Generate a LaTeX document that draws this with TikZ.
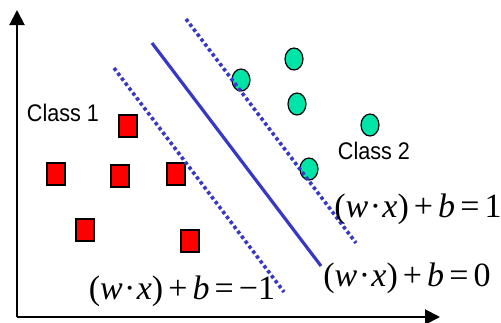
\documentclass[tikz,border=0pt]{standalone}
\usepackage{fontspec}
\usepackage{graphicx}
\newfontfamily\tms{Liberation Serif}
\newfontfamily\arl{Liberation Sans}
\usetikzlibrary{arrows.meta,shapes.geometric}
\definecolor{svmblue}{RGB}{55,55,200}
\definecolor{svmgreen}{RGB}{0,228,168}
\tikzset{
  axisline/.style={line width=2pt,-{Triangle[length=15pt,width=15pt]}},
  redsq/.style={draw=black,fill=red,line width=1.2pt,minimum width=18pt,minimum height=22pt,inner sep=0pt,rectangle},
  greendot/.style={draw=black,fill=svmgreen,line width=1.2pt,minimum width=18pt,minimum height=22pt,inner sep=0pt,ellipse},
  hyper/.style={draw=svmblue,line width=3.2pt},
  margin/.style={draw=svmblue,line width=3.6pt,dash pattern=on 3.4pt off 2.8pt},
  cls/.style={inner sep=0pt,font=\arl\fontsize{24}{24}\selectfont},
  eq/.style={inner sep=0pt,font=\tms\fontsize{34}{34}\selectfont}
}
\newcommand{\eqtext}[1]{(\textit{w}\hspace{0.04em}·\hspace{0.04em}\textit{x})\hspace{0.15em}+\hspace{0.15em}\textit{b}\hspace{0.15em}=\hspace{0.15em}#1}
\begin{document}
\begin{tikzpicture}[x=1pt,y=-1pt]
\useasboundingbox (0,0) rectangle (501,322);
% axes
\coordinate (origin) at (17,317);
\coordinate (ytip) at (17,10);
\coordinate (xtip) at (440,317);
\draw[axisline] (origin) -- (ytip);
\draw[axisline] (origin) -- (xtip);
% class 1 squares
\node[redsq] (s1) at (128,126) {};
\node[redsq] (s2) at (56,174) {};
\node[redsq] (s3) at (120,176) {};
\node[redsq] (s4) at (176,174) {};
\node[redsq] (s5) at (85,230) {};
\node[redsq] (s6) at (190,241) {};
% class 2 circles
\node[greendot] (c1) at (294,59) {};
\node[greendot] (c2) at (297,104) {};
\node[greendot] (c3) at (370,125) {};
\node[greendot] (c4) at (309,169) {};
\node[greendot] (c5) at (241,80) {};
% hyperplanes
\coordinate (h0a) at (152,43);
\coordinate (h0b) at (321,266);
\coordinate (h1a) at (186,19);
\coordinate (h1b) at (356,243);
\coordinate (hma) at (114,68);
\coordinate (hmb) at (284,292);
\draw[hyper] (h0a) -- (h0b);
\draw[margin] (h1a) -- (h1b);
\draw[margin] (hma) -- (hmb);
% labels
\node[cls] (l1) at (63,113) {\scalebox{0.9}[1]{Class 1}};
\node[cls] (l2) at (374,151) {\scalebox{0.9}[1]{Class 2}};
\node[eq] (e1) at (418,209) {\eqtext{1}};
\node[eq] (e0) at (407,278) {\eqtext{0}};
\node[eq] (em) at (182,291) {\eqtext{−1}};
\end{tikzpicture}
\end{document}
